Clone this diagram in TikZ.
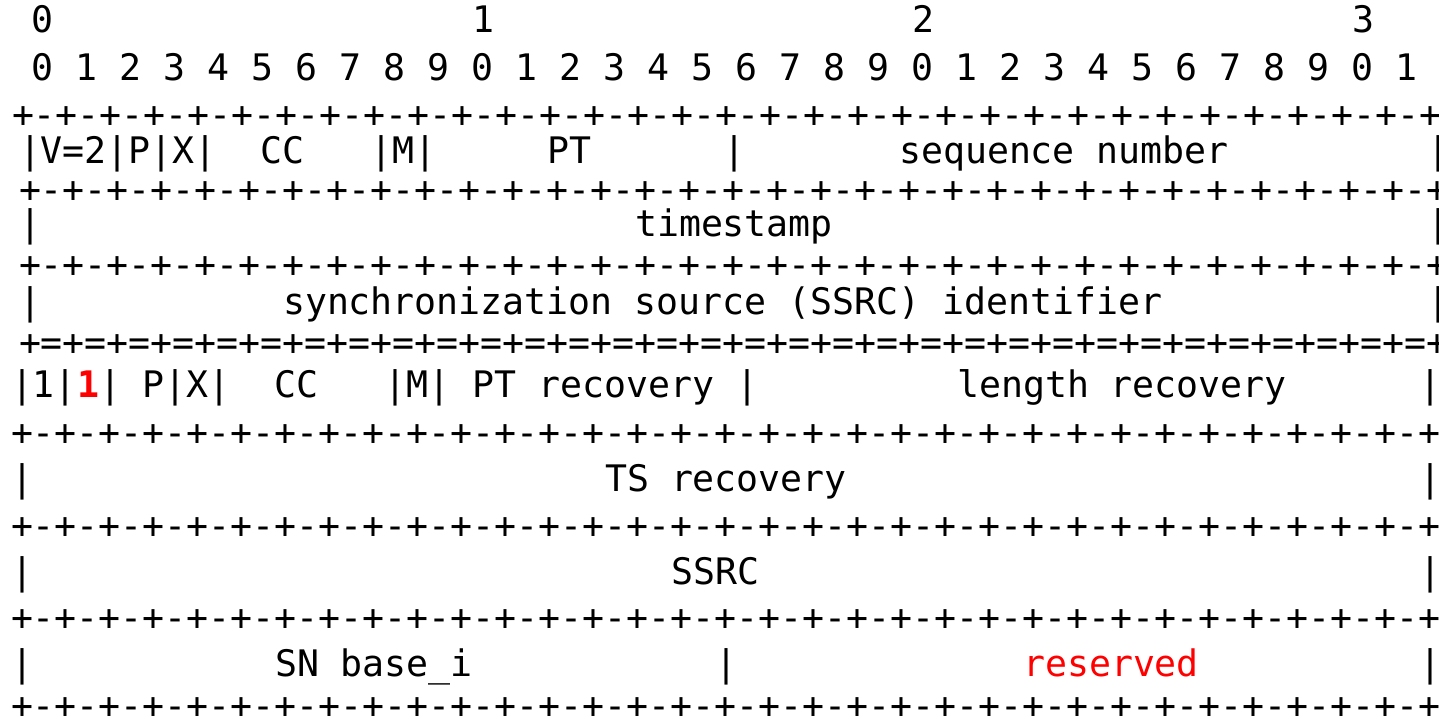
\documentclass[tikz,border=0pt]{standalone}
\usepackage{fontspec}
\newfontfamily\monofam{DejaVu Sans Mono}
\newcommand\gap[1]{\hspace*{#1\fontdimen2\font}}
\newcommand\brdline{+-+-+-+-+-+-+-+-+-+-+-+-+-+-+-+-+-+-+-+-+-+-+-+-+-+-+-+-+-+-+-+-+}
\newcommand\eqline{+=+=+=+=+=+=+=+=+=+=+=+=+=+=+=+=+=+=+=+=+=+=+=+=+=+=+=+=+=+=+=+=+}
\tikzset{
  txtrow/.style={anchor=base west, inner sep=0pt, outer sep=0pt, font=\monofam\fontsize{18.271pt}{20pt}\selectfont},
  brdrow/.style={anchor=west, inner sep=0pt, outer sep=0pt, font=\monofam\fontsize{18.271pt}{20pt}\selectfont},
  hl/.style={text=red}
}
\begin{document}
\begin{tikzpicture}[x=0.5pt, y=-0.5pt]
\useasboundingbox (0,0) rectangle (1439,723);
\fill[white] (0,0) rectangle (1439,723);
\clip (0,0) rectangle (1439,723);
% header
\node[txtrow] (hdrA) at (10,32) {\gap{1}0\gap{19}1\gap{19}2\gap{19}3};
\node[txtrow] (hdrB) at (10,80) {\gap{1}0 1 2 3 4 5 6 7 8 9 0 1 2 3 4 5 6 7 8 9 0 1 2 3 4 5 6 7 8 9 0 1};
% RTP header
\node[brdrow] (bA) at (12,117.5) {\brdline};
\node[txtrow] (rowA) at (19,163.5) {|V=2|P|X|\gap{2}CC\gap{3}|M|\gap{5}PT\gap{6}|\gap{7}sequence number\gap{9}|};
\node[brdrow] (bB) at (19,192.5) {\brdline};
\node[txtrow] (rowB) at (19,236.5) {|\gap{27}timestamp\gap{27}|};
\node[brdrow] (bC) at (19,267.5) {\brdline};
\node[txtrow] (rowC) at (19,314) {|\gap{11}synchronization source (SSRC) identifier\gap{12}|};
\node[brdrow] (bD) at (19,345) {\eqline};
% FEC header
\node[txtrow] (rowD) at (11,397) {|1|{\bfseries\color{red}1}|\gap{1}P|X|\gap{2}CC\gap{3}|M|\gap{1}PT recovery\gap{1}|\gap{9}length recovery\gap{6}|};
\node[brdrow] (bE) at (11,435) {\brdline};
\node[txtrow] (rowE) at (11,491) {|\gap{26}TS recovery\gap{26}|};
\node[brdrow] (bF) at (11,528.5) {\brdline};
\node[txtrow] (rowF) at (11,584.5) {|\gap{29}SSRC\gap{30}|};
\node[brdrow] (bG) at (11,620) {\brdline};
\node[txtrow] (rowG) at (11,676) {|\gap{11}SN base\_i\gap{11}|\gap{13}{\color{red}reserved}\gap{10}|};
\node[brdrow] (bH) at (11,708.5) {\brdline};
\end{tikzpicture}
\end{document}
